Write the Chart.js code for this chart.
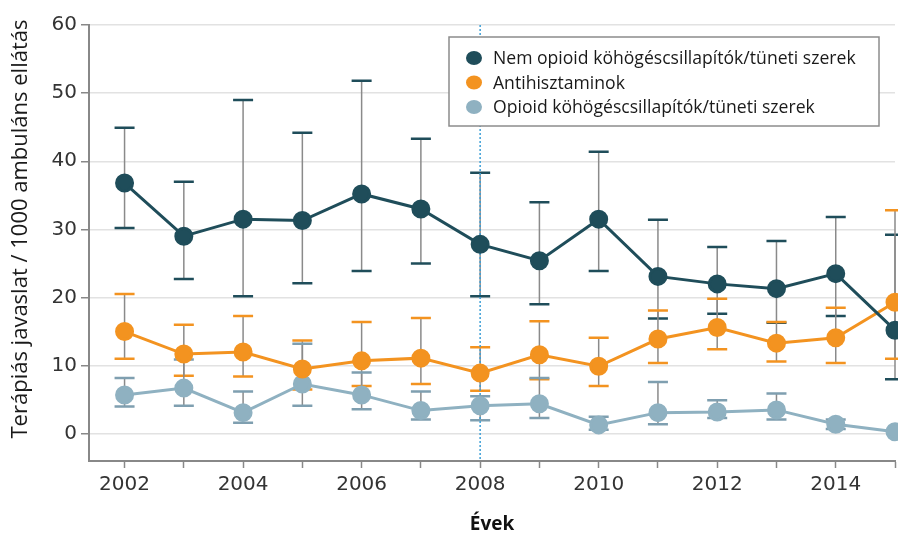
<!DOCTYPE html>
<html>
<head>
<meta charset="utf-8">
<script src="https://cdn.jsdelivr.net/npm/chart.js@4"></script>
<style>
  html, body { margin: 0; padding: 0; background: #fff; overflow: hidden; }
  #wrap { width: 898px; height: 534px; position: relative; }
  canvas { display: block; }
</style>
</head>
<body>
<div id="wrap"><canvas id="chart"></canvas></div>
<script>
'use strict';

// data
const years = [2002, 2003, 2004, 2005, 2006, 2007, 2008, 2009, 2010, 2011, 2012, 2013, 2014, 2015];

const nonOpioid     = [36.8, 29.0, 31.5, 31.3, 35.2, 33.0, 27.8, 25.4, 31.5, 23.1, 22.0, 21.3, 23.5, 15.2];
const nonOpioidLow  = [30.2, 22.7, 20.2, 22.1, 23.9, 25.0, 20.2, 19.0, 23.9, 16.9, 17.6, 16.3, 17.3, 8.0];
const nonOpioidHigh = [44.9, 37.0, 49.0, 44.2, 51.8, 43.3, 38.3, 34.0, 41.4, 31.4, 27.4, 28.3, 31.8, 29.2];

const antihist     = [15.0, 11.7, 12.0, 9.5, 10.7, 11.1, 8.9, 11.6, 9.9, 13.9, 15.6, 13.3, 14.1, 19.3];
const antihistLow  = [11.0, 8.5, 8.4, 6.5, 7.0, 7.3, 6.3, 8.0, 7.0, 10.4, 12.4, 10.6, 10.4, 11.0];
const antihistHigh = [20.5, 16.0, 17.3, 13.7, 16.4, 17.0, 12.7, 16.5, 14.1, 18.1, 19.8, 16.4, 18.5, 32.8];

const opioid     = [5.7, 6.7, 3.1, 7.3, 5.7, 3.4, 4.1, 4.4, 1.3, 3.1, 3.2, 3.5, 1.4, 0.3];
const opioidLow  = [4.0, 4.1, 1.6, 4.1, 3.6, 2.1, 2.0, 2.3, 0.6, 1.4, 2.3, 2.1, 0.7, null];
const opioidHigh = [8.2, 10.9, 6.2, 13.2, 9.0, 6.2, 5.5, 8.2, 2.5, 7.6, 4.9, 5.9, 2.1, null];

const yTicks = [0, 10, 20, 30, 40, 50, 60];
const markYear = 2008;
const yTitle = 'Terápiás javaslat / 1000 ambuláns ellátás';

const DARK = '#1f4d5a';
const ORANGE = '#f39320';
const LIGHT = '#8fb1c1';

function series(label, vals, low, high, color, cap) {
  return {
    label,
    data: years.map((y, i) => ({ x: y, y: vals[i] })),
    low, high, capColor: cap,
    borderColor: color,
    backgroundColor: color,
    pointBackgroundColor: color,
    pointBorderColor: color,
    borderWidth: 3,
    pointRadius: 8,
    pointHoverRadius: 8,
    tension: 0,
    clip: false
  };
}

// whiskers + caps, under the lines
const errorBars = {
  id: 'errorBars',
  beforeDatasetsDraw(chart) {
    const { ctx, scales: { x, y } } = chart;
    ctx.save();
    chart.data.datasets.forEach(ds => {
      years.forEach((yr, i) => {
        if (ds.low[i] == null || ds.high[i] == null) return;
        const px = x.getPixelForValue(yr);
        const lo = y.getPixelForValue(ds.low[i]);
        const hi = y.getPixelForValue(ds.high[i]);
        ctx.strokeStyle = '#8a8a8a';
        ctx.lineWidth = 1.5;
        ctx.beginPath(); ctx.moveTo(px, hi); ctx.lineTo(px, lo); ctx.stroke();
        ctx.strokeStyle = ds.capColor;
        ctx.lineWidth = 2.5;
        ctx.beginPath();
        ctx.moveTo(px - 10, hi); ctx.lineTo(px + 10, hi);
        ctx.moveTo(px - 10, lo); ctx.lineTo(px + 10, lo);
        ctx.stroke();
      });
    });
    // dotted marker line at 2008
    const mx = x.getPixelForValue(markYear);
    ctx.strokeStyle = '#3d9fd6';
    ctx.lineWidth = 1.5;
    ctx.setLineDash([2, 2]);
    ctx.beginPath(); ctx.moveTo(mx, chart.chartArea.top); ctx.lineTo(mx, chart.chartArea.bottom); ctx.stroke();
    ctx.restore();
  }
};

// boxed legend in the upper right + rotated y title
const extras = {
  id: 'extras',
  afterDatasetsDraw(chart) {
    const ctx = chart.ctx;
    ctx.save();
    ctx.fillStyle = '#fff';
    ctx.fillRect(449, 37, 430, 89);
    ctx.strokeStyle = '#8c8c8c';
    ctx.lineWidth = 1.5;
    ctx.strokeRect(449, 37, 430, 89);
    ctx.font = '17.6px "Open Sans"';
    ctx.textBaseline = 'middle';
    chart.data.datasets.forEach((ds, i) => {
      const cy = 58 + i * 24.5;
      ctx.fillStyle = ds.borderColor;
      ctx.beginPath(); ctx.ellipse(474, cy, 8, 7, 0, 0, Math.PI * 2); ctx.fill();
      ctx.fillStyle = '#1a1a1a';
      ctx.fillText(ds.label, 493, cy + 1);
    });

    ctx.translate(21, 229);
    ctx.rotate(-Math.PI / 2);
    ctx.font = '22px "Open Sans"';
    ctx.textAlign = 'center';
    ctx.fillStyle = '#1a1a1a';
    ctx.fillText(yTitle, 0, 0);
    ctx.restore();
  }
};

new Chart(document.getElementById('chart'), {
  type: 'line',
  data: {
    datasets: [
      series('Nem opioid köhögéscsillapítók/tüneti szerek', nonOpioid, nonOpioidLow, nonOpioidHigh, DARK, DARK),
      series('Antihisztaminok', antihist, antihistLow, antihistHigh, ORANGE, ORANGE),
      series('Opioid köhögéscsillapítók/tüneti szerek', opioid, opioidLow, opioidHigh, LIGHT, '#7f9fb0')
    ]
  },
  options: {
    responsive: true,
    maintainAspectRatio: false,
    animation: false,
    layout: { autoPadding: false, padding: { top: 25, right: 3, left: 0, bottom: 0 } },
    plugins: { legend: { display: false }, tooltip: { enabled: false } },
    scales: {
      x: {
        type: 'linear',
        min: 2001.4,
        max: 2015,
        afterBuildTicks: s => { s.ticks = years.map(v => ({ value: v })); },
        afterFit: s => { s.height = 73; s.paddingLeft = 0; s.paddingRight = 0; },
        ticks: {
          autoSkip: false,
          maxRotation: 0,
          padding: 5,
          color: '#333',
          font: { family: 'DejaVu Sans', size: 20 },
          callback: v => (v % 2 === 0 ? String(v) : '')
        },
        grid: { drawOnChartArea: false, tickLength: 7, tickColor: '#888', tickWidth: 1.5 },
        border: { color: '#888', width: 2 },
        title: {
          display: true,
          text: 'Évek',
          color: '#111',
          font: { family: 'Open Sans', size: 19, weight: 'bold', lineHeight: 1 },
          padding: { top: 0, bottom: 0 }
        }
      },
      y: {
        min: -4,
        max: 60,
        afterBuildTicks: s => { s.ticks = yTicks.map(v => ({ value: v })); },
        afterFit: s => { s.width = 89; },
        ticks: {
          padding: 4,
          color: '#333',
          font: { family: 'DejaVu Sans', size: 20 }
        },
        grid: { color: '#e2e2e2', lineWidth: 1.5, tickLength: 8, tickColor: '#888', tickWidth: 1.5 },
        border: { color: '#888', width: 2 }
      }
    }
  },
  plugins: [errorBars, extras]
});
</script>
</body>
</html>
